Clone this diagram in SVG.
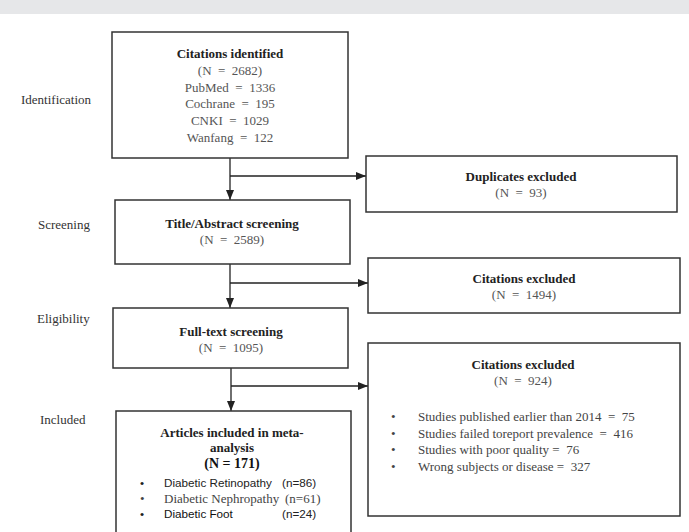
<svg xmlns="http://www.w3.org/2000/svg" width="689" height="532" viewBox="0 0 689 532">
<defs>
<marker id="ah" markerUnits="userSpaceOnUse" markerWidth="10" markerHeight="8" refX="10" refY="4" orient="auto">
<path d="M0,0 L10,4 L0,8 z" fill="#222"/>
</marker>
<style>
.box{fill:#fff;stroke:#333;stroke-width:1.5}
.t{font-family:"Liberation Serif",serif;font-weight:bold;font-size:13px;fill:#222;text-anchor:middle}
.m{font-family:"Liberation Serif",serif;font-size:13px;fill:#555;text-anchor:middle;white-space:pre}
.lbl{font-family:"Liberation Serif",serif;font-size:13px;fill:#333}
.b{font-family:"Liberation Serif",serif;font-size:13px;fill:#444;white-space:pre}
.sans{font-family:"Liberation Sans",sans-serif;font-size:11.7px;fill:#222}
.conn{stroke:#222;stroke-width:1.3;fill:none}
</style>
</defs>
<rect x="0" y="0" width="689" height="532" fill="#fff"/>
<rect x="0" y="0" width="689" height="14" fill="#e6e7e9"/>

<g id="labels">
<text class="lbl" x="21" y="104">Identification</text>
<text class="lbl" x="38" y="229">Screening</text>
<text class="lbl" x="37" y="323">Eligibility</text>
<text class="lbl" x="40" y="424">Included</text>
</g>

<g id="connectors">
<line class="conn" x1="230" y1="158" x2="230" y2="200" marker-end="url(#ah)"/>
<line class="conn" x1="230" y1="176" x2="366" y2="176" marker-end="url(#ah)"/>
<line class="conn" x1="230" y1="264" x2="230" y2="308" marker-end="url(#ah)"/>
<line class="conn" x1="230" y1="283" x2="368" y2="283" marker-end="url(#ah)"/>
<line class="conn" x1="231" y1="368" x2="231" y2="411" marker-end="url(#ah)"/>
<line class="conn" x1="231" y1="386" x2="368" y2="386" marker-end="url(#ah)"/>
</g>

<g id="identified">
<rect class="box" x="112" y="32" width="236" height="126"/>
<text class="t" x="230" y="58">Citations identified</text>
<text class="m" x="230" y="75">(N  =  2682)</text>
<text class="m" x="230" y="92">PubMed  =  1336</text>
<text class="m" x="230" y="108">Cochrane  =  195</text>
<text class="m" x="230" y="125">CNKI  =  1029</text>
<text class="m" x="230" y="142">Wanfang  =  122</text>
</g>

<g id="duplicates">
<rect class="box" x="366" y="156" width="311" height="56"/>
<text class="t" x="521" y="181">Duplicates excluded</text>
<text class="m" x="521" y="197">(N  =  93)</text>
</g>

<g id="title-abstract">
<rect class="box" x="115" y="200" width="235" height="64"/>
<text class="t" x="232" y="228">Title/Abstract screening</text>
<text class="m" x="232" y="244">(N  =  2589)</text>
</g>

<g id="excluded1">
<rect class="box" x="368" y="258" width="312" height="55"/>
<text class="t" x="524" y="283">Citations excluded</text>
<text class="m" x="524" y="299">(N  =  1494)</text>
</g>

<g id="fulltext">
<rect class="box" x="113" y="308" width="235" height="60"/>
<text class="t" x="231" y="336">Full-text screening</text>
<text class="m" x="231" y="352">(N  =  1095)</text>
</g>

<g id="excluded2">
<rect class="box" x="368" y="343" width="312" height="173"/>
<text class="t" x="523" y="369">Citations excluded</text>
<text class="m" x="523" y="385">(N  =  924)</text>
<text class="b" x="391" y="421">•</text>
<text class="b" x="418" y="421">Studies published earlier than 2014  =  75</text>
<text class="b" x="391" y="438">•</text>
<text class="b" x="418" y="438">Studies failed toreport prevalence  =  416</text>
<text class="b" x="391" y="454">•</text>
<text class="b" x="418" y="454">Studies with poor quality =  76</text>
<text class="b" x="391" y="471">•</text>
<text class="b" x="418" y="471">Wrong subjects or disease =  327</text>
</g>

<g id="included">
<rect class="box" x="116" y="411" width="235" height="135"/>
<text class="t" x="232" y="437">Articles included in meta-</text>
<text class="t" x="232" y="452">analysis</text>
<text class="m" x="232" y="468" style="font-weight:bold;fill:#111;font-size:14px">(N = 171)</text>
<text class="sans" x="140" y="487">•</text>
<text class="sans" x="164" y="487">Diabetic Retinopathy</text>
<text class="sans" x="282" y="487">(n=86)</text>
<text class="b" x="140" y="503">•</text>
<text class="b" x="164" y="503">Diabetic Nephropathy</text>
<text class="b" x="285" y="503">(n=61)</text>
<text class="sans" x="140" y="518">•</text>
<text class="sans" x="164" y="518" style="fill:#111">Diabetic Foot</text>
<text class="sans" x="282" y="518">(n=24)</text>
</g>
</svg>
